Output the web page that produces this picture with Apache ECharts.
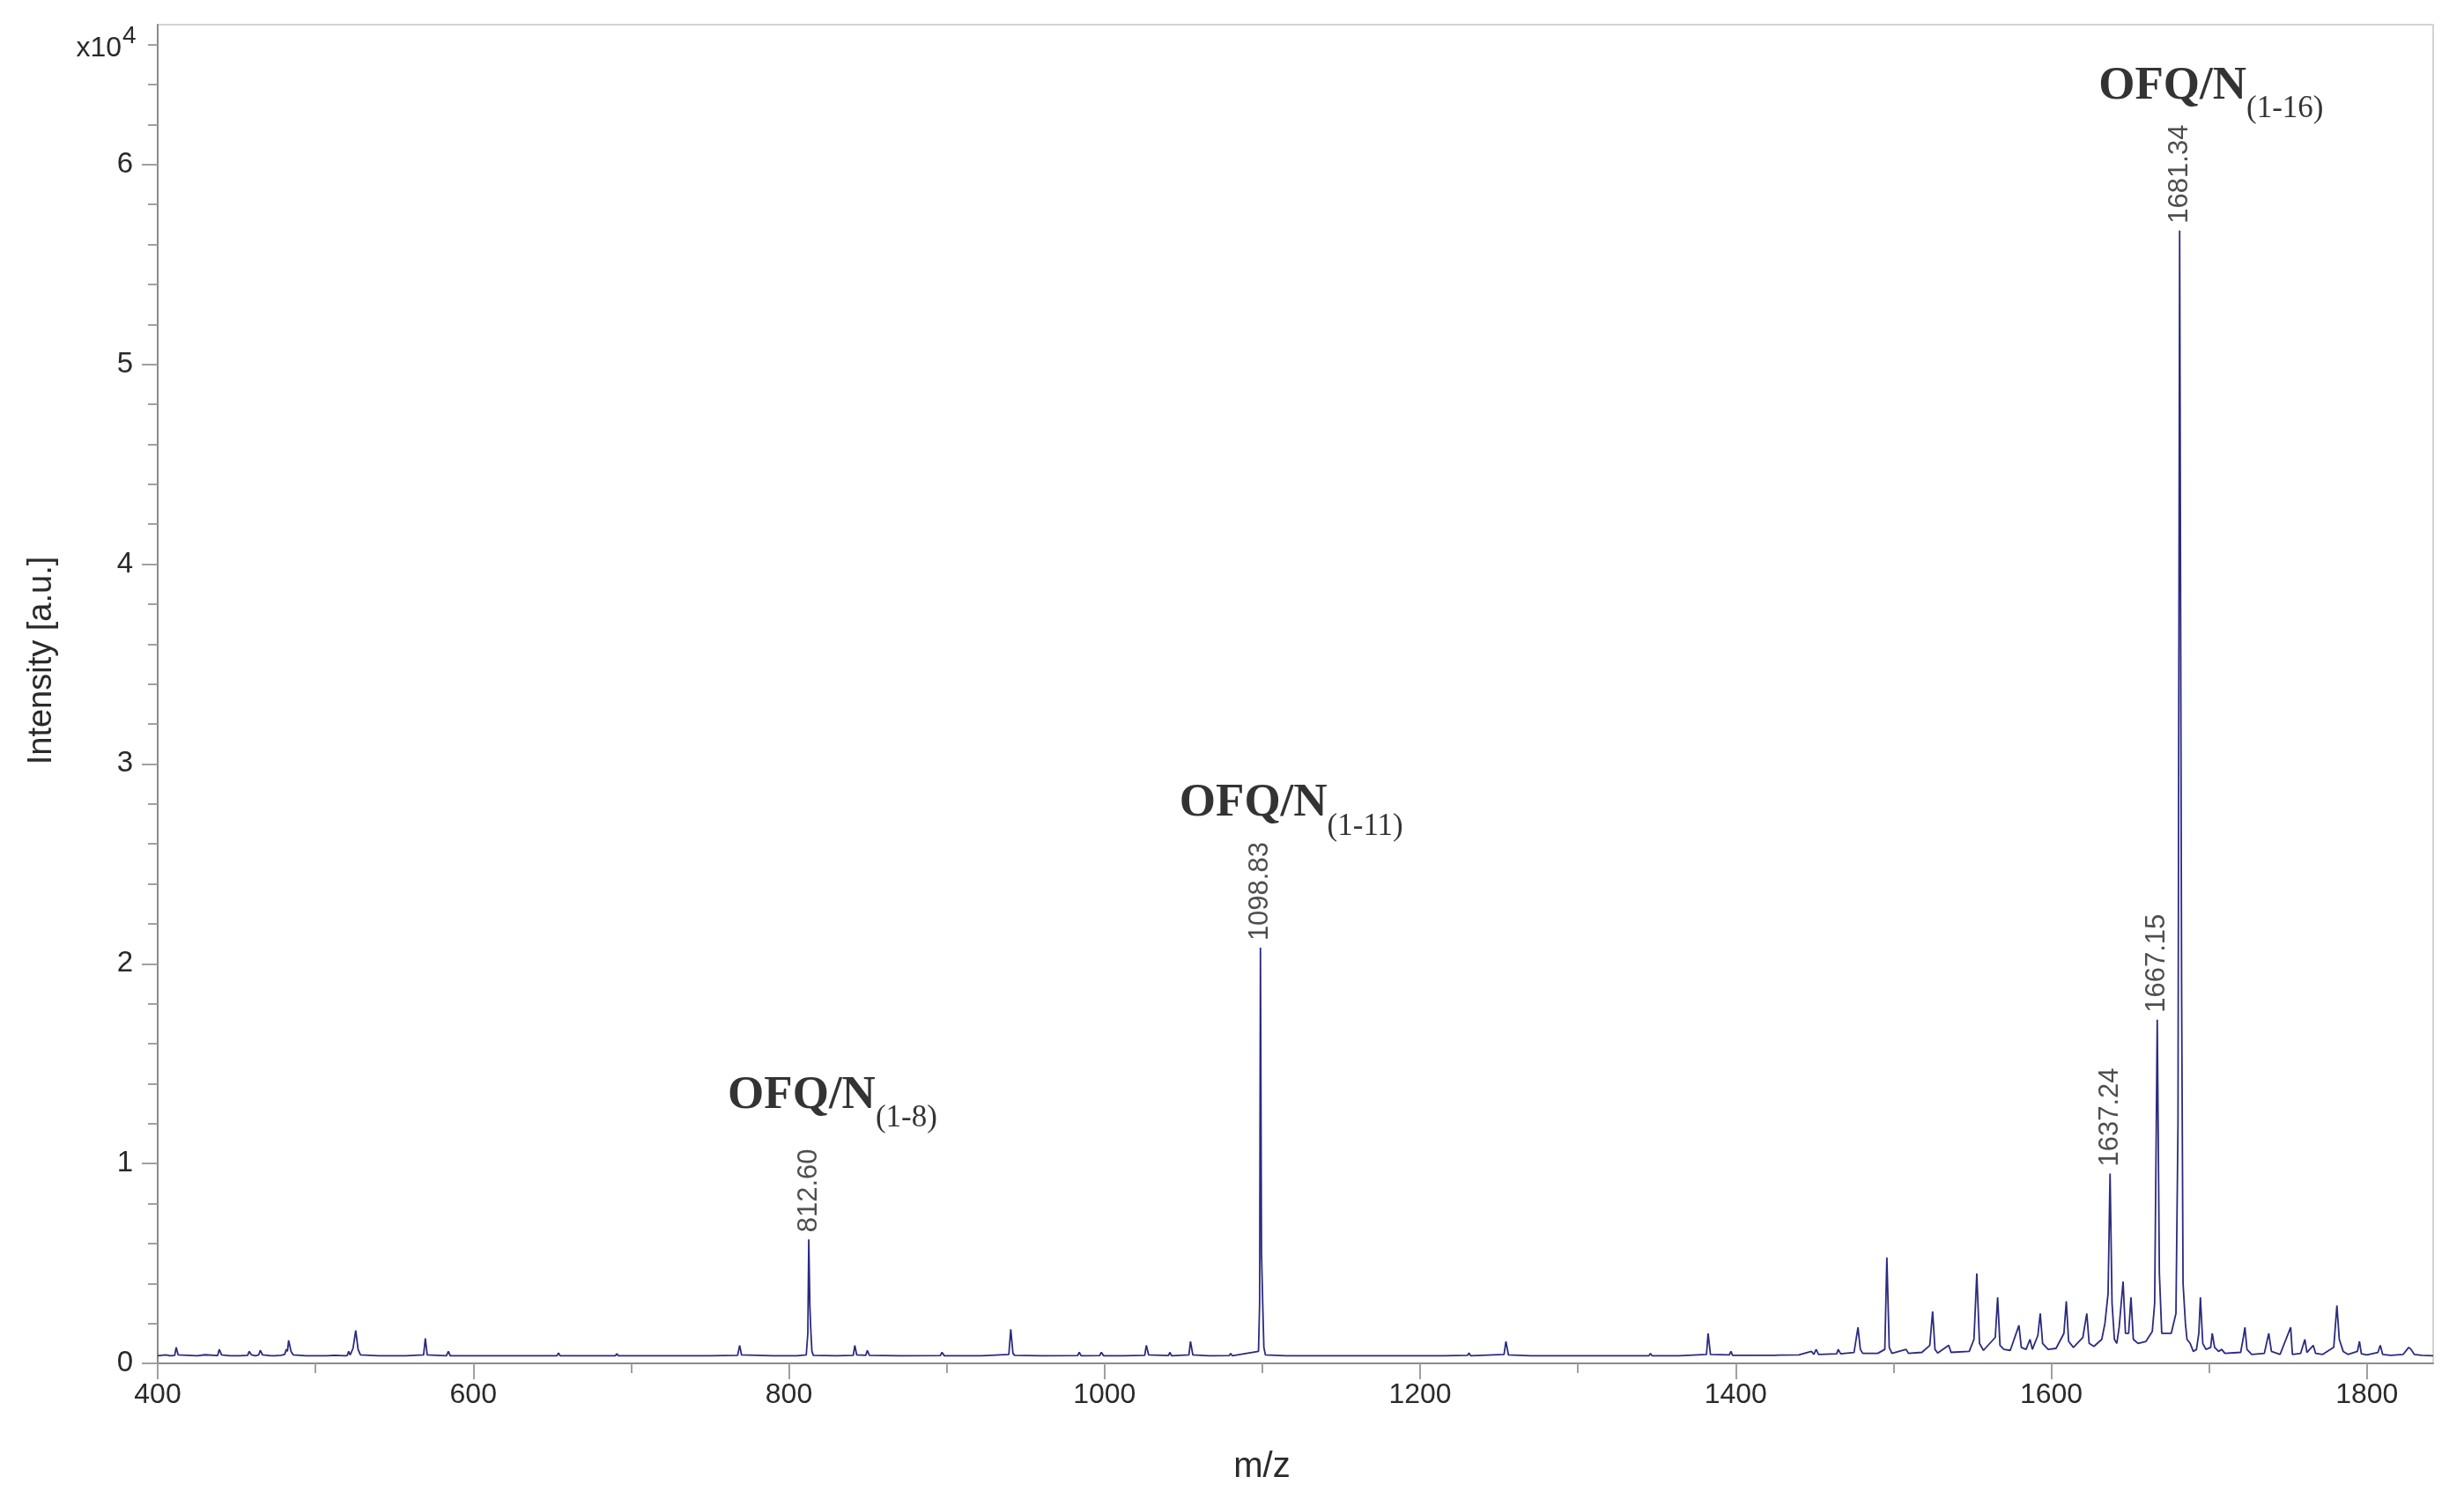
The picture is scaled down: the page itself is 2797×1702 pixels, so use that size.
<!DOCTYPE html>
<html>
<head>
<meta charset="utf-8">
<script src="https://cdn.jsdelivr.net/npm/echarts@6/dist/echarts.min.js"></script>
<style>
html,body{margin:0;padding:0;background:#ffffff;}
#chart{width:2797px;height:1702px;}
</style>
</head>
<body>
<div id="chart"></div>
<script>
// ---- Spectrum profile points [m/z, intensity (a.u.)] ----
const lowMassRegion = [
  [400,380],[405,420],[408,380],[410.8,400],[411.7,800],[413,420],[425,380],[430,430],[431,380],
  [438,390],[439,700],[440.5,420],[446,380],[447,450],[448,380],[452,380],[457,400],[458,600],[459.5,420],
  [462,380],[464,420],[465,650],[466.5,420],[472,380],[473,460],[474,380],[478,400],[480.5,450],
  [481.5,700],[482.2,600],[483,1150],[484.5,600],[486,420],[494,380],[495,450],[496,380],[505,380],
  [506,430],[507,380],[512,400],[519,380],[520.2,400],[521,600],[522,420],[523,500],[523.8,750],
  [525.5,1650],[527,700],[528.5,420],[540,380],[541,440],[542,380],[555,380],[556,430],[557,380],
  [568.5,420],[569.6,1250],[570.8,420],[583,380],[584.2,600],[585.4,380],[600,380],[601,440],[602,380],
  [620,380],[621,430],[622,380],[636,380],[637,440],[638,380],[653,380],[654,520],[655,380],[670,380],
  [671,430],[672,380],[690,380],[691,480],[692,380],[708,380],[709,430],[710,380],[730,380],[731,440],
  [732,380],[748,380],[749,430],[750,380],[767.5,400],[768.8,900],[770,420],[790,380]
];
const midMassRegion = [
  [805,380],[811,420],[812,1500],[812.6,6200],[813.3,2900],[813.8,1800],[814.6,600],[815.5,400],
  [830,380],[840.8,400],[841.8,900],[843,420],[848.7,400],[849.7,650],[851,400],[870,380],[871,430],
  [872,380],[896,390],[897,550],[898.5,380],[920,380],[921,430],[922,380],[939.4,450],[940.6,1700],
  [942,500],[943,400],[960,380],[961,430],[962,380],[983,390],[984,550],[985.2,380],[997,390],[998,550],
  [999.5,380],[1010,380],[1011,430],[1012,380],[1025.5,400],[1026.5,900],[1028,420],[1040.5,390],
  [1041.5,550],[1042.5,380],[1053.5,420],[1054.5,1100],[1056,420],[1066,380],[1067,450],[1068,380],
  [1079,390],[1080,500],[1081,380],[1097.6,600],[1098.3,3000],[1098.83,20800],[1099.5,5500],
  [1100.3,2900],[1101,800],[1102,420],[1115,380],[1116,440],[1117,380],[1135,380],[1136,430],[1137,380],
  [1155,380],[1156,440],[1157,380],[1175,380],[1176,430],[1177,380],[1195,380],[1196,440],[1197,380],
  [1213,380],[1214,430],[1215,380],[1230,400],[1231,520],[1232,380],[1253.2,450],[1254.4,1100],
  [1256,420],[1270,380],[1271,440],[1272,380],[1290,380],[1291,430],[1292,380],[1310,380],[1311,440],
  [1312,380],[1328,380],[1329,430],[1330,380],[1345,380],[1346,500],[1347,380],[1362,380],[1363,440],
  [1364,380],[1381.5,450],[1382.5,1500],[1384,450],[1396,420],[1397,600],[1398,400],[1410,400],
  [1411,460],[1412,400],[1425,400],[1426,470],[1427,410],[1440,420]
];
const peptideCluster = [
  [1448,600],[1449.5,450],[1451,700],[1452.5,450],[1464,480],[1465,700],[1466.5,480],[1475,550],
  [1476,600],[1477.5,1800],[1479,700],[1480.5,500],[1490,500],[1494.5,700],[1495.8,5300],[1497.3,800],
  [1499,500],[1508,700],[1509.5,500],[1518,550],[1523,900],[1524.8,2600],[1526.3,700],[1528,520],
  [1535,900],[1536.5,550],[1548,600],[1551,1200],[1552.8,4500],[1554.5,1000],[1557,650],[1564.5,1300],
  [1566,3300],[1567.5,900],[1570,700],[1574,650],[1579.5,1900],[1581,800],[1584,700],[1586.5,1200],
  [1588,700],[1591.5,1400],[1593,2500],[1594.5,1000],[1598,700],[1603,750],[1608,1500],[1609.5,3100],
  [1611,1100],[1614,800],[1620,1300],[1622.5,2500],[1624,1000],[1627,850],[1632,1200],[1634,2000],
  [1636,3500],[1637.24,9500],[1638.5,3000],[1640,1200],[1641.5,1000],[1643,1800],[1645.5,4100],
  [1647,1500],[1649,1500],[1650.5,3300],[1652,1200],[1655,1000],[1660,1100],[1664,1600],[1665.5,3000],
  [1667.15,17200],[1668.5,4500],[1670,1500],[1672,1500],[1676,1500],[1679,2500],[1680.3,12000],
  [1681.34,56700],[1682.6,18500],[1683.5,4000],[1685,2000],[1686,1200],[1688,1000],[1690,600],
  [1692,700],[1693.5,1500],[1694.5,3300],[1696,1000],[1698,700]
];
const highMassTail = [
  [1701,800],[1702,1500],[1703.5,800],[1706,600],[1708,700],[1710,500],[1720,550],[1721.5,1200],
  [1722.7,1800],[1724,700],[1727,450],[1735,500],[1737.8,1500],[1739.5,600],[1745,450],[1751.7,1800],
  [1752.8,450],[1758,500],[1760.7,1200],[1762,550],[1766,900],[1767.5,500],[1772,450],[1779,800],
  [1781,2900],[1782.5,1200],[1785,600],[1788,450],[1794,600],[1795.3,1100],[1796.5,480],[1800,420],
  [1807,550],[1808.5,900],[1810,450],[1815,400],[1823,450],[1826.5,800],[1828,700],[1830,450],
  [1835,400],[1842,380]
];

// ---- Labelled peaks ----
const peakMz = [812.60, 1098.83, 1637.24, 1667.15, 1681.34];
const peakIntensity = [6200, 20800, 9500, 17200, 56700];
const peakText = ['812.60', '1098.83', '1637.24', '1667.15', '1681.34'];

// ---- Fragment annotations ----
const ionMz = [812.60, 1098.83, 1681.34];
const ionIntensity = [6200, 20800, 56700];
const ionName = ['OFQ/N', 'OFQ/N', 'OFQ/N'];
const ionRange = ['(1-8)', '(1-11)', '(1-16)'];

// ---- Axis ticks ----
const xMajorTicks = [400, 600, 800, 1000, 1200, 1400, 1600, 1800];
const xMinorTicks = [500, 700, 900, 1100, 1300, 1500, 1700];
const yMajorTicks = [0, 10000, 20000, 30000, 40000, 50000, 60000];
const yMinorTicks = [2000, 4000, 6000, 8000, 12000, 14000, 16000, 18000, 22000, 24000, 26000, 28000,
  32000, 34000, 36000, 38000, 42000, 44000, 46000, 48000, 52000, 54000, 56000, 58000, 62000, 64000, 66000];

const spectrum = lowMassRegion.concat(midMassRegion, peptideCluster, highMassTail);

const SANS = '"Liberation Sans", Arial, sans-serif';
const SERIF = '"Liberation Serif", "Times New Roman", serif';
const tickColor = '#a0a0a0';
const labelColor = '#2a2a2a';

const chart = echarts.init(document.getElementById('chart'), null, {renderer: 'canvas'});

const option = {
  backgroundColor: '#ffffff',
  animation: false,
  grid: {left: 179, right: 35, top: 28, bottom: 154, show: true, borderColor: '#d4d4d4', borderWidth: 2, backgroundColor: 'transparent'},
  xAxis: [
    {
      type: 'value', min: 400, max: 1842, position: 'bottom',
      axisLine: {show: true, onZero: false, lineStyle: {color: '#8a8a8a', width: 2}},
      axisTick: {show: true, length: 18, customValues: xMajorTicks, lineStyle: {color: tickColor, width: 2}},
      axisLabel: {show: true, customValues: xMajorTicks, formatter: v => String(v), fontSize: 32, fontFamily: SANS, color: labelColor, margin: 20},
      splitLine: {show: false},
      name: 'm/z', nameLocation: 'middle', nameGap: 98,
      nameTextStyle: {fontSize: 40, fontFamily: SANS, color: labelColor, padding: [0, 76, 0, 0]}
    },
    {
      type: 'value', min: 400, max: 1842, position: 'bottom',
      axisLine: {show: false, onZero: false},
      axisTick: {show: true, length: 11, customValues: xMinorTicks, lineStyle: {color: tickColor, width: 2}},
      axisLabel: {show: false},
      splitLine: {show: false}
    }
  ],
  yAxis: [
    {
      type: 'value', min: 0, max: 67000, position: 'left',
      axisLine: {show: true, onZero: false, lineStyle: {color: '#8a8a8a', width: 2}},
      axisTick: {show: true, length: 18, customValues: yMajorTicks, lineStyle: {color: tickColor, width: 2}},
      axisLabel: {show: true, customValues: yMajorTicks, formatter: v => String(v / 10000), fontSize: 33, fontFamily: SANS, color: labelColor, margin: 28},
      splitLine: {show: false},
      name: 'Intensity [a.u.]', nameLocation: 'middle', nameGap: 112,
      nameTextStyle: {fontSize: 38, fontFamily: SANS, color: labelColor, padding: [0, 0, 0, 76]}
    },
    {
      type: 'value', min: 0, max: 67000, position: 'left',
      axisLine: {show: false, onZero: false},
      axisTick: {show: true, length: 11, customValues: yMinorTicks, lineStyle: {color: tickColor, width: 2}},
      axisLabel: {show: false},
      splitLine: {show: false}
    }
  ],
  graphic: [
    {type: 'text', x: 138, y: 55, z: 100, style: {text: 'x10', font: '32px "Liberation Sans", Arial, sans-serif', fill: labelColor, align: 'right', verticalAlign: 'middle'}},
    {type: 'text', x: 139, y: 41, z: 100, style: {text: '4', font: '28px "Liberation Sans", Arial, sans-serif', fill: labelColor, align: 'left', verticalAlign: 'middle'}}
  ],
  series: [
    {
      type: 'line', name: 'spectrum', xAxisIndex: 0, yAxisIndex: 0,
      data: spectrum, showSymbol: false, symbol: 'none', smooth: false,
      lineStyle: {color: '#2b2b80', width: 1.8},
      z: 2
    },
    {
      type: 'scatter', name: 'peak labels', xAxisIndex: 0, yAxisIndex: 0,
      data: peakMz.map((m, i) => [m, peakIntensity[i], peakText[i]]),
      symbolSize: 0, silent: true, z: 3,
      label: {
        show: true, position: 'top', distance: 8, rotate: 90, align: 'left', verticalAlign: 'middle',
        formatter: p => p.data[2], fontSize: 31, fontFamily: SANS, color: '#222'
      }
    },
    {
      type: 'scatter', name: 'fragments', xAxisIndex: 0, yAxisIndex: 0,
      data: ionMz.map((m, i) => [m, ionIntensity[i], ionName[i], ionRange[i]]),
      symbolSize: 0, silent: true, z: 3,
      label: {
        show: true, position: 'top', distance: 120, align: 'left', offset: [-92, 0],
        formatter: p => '{a|' + p.data[2] + '}{b|' + p.data[3] + '}',
        rich: {
          a: {fontSize: 53, fontWeight: 'bold', fontFamily: SERIF, color: '#000', lineHeight: 70, verticalAlign: 'top'},
          b: {fontSize: 35, fontWeight: 'normal', fontFamily: SERIF, color: '#000', lineHeight: 6, verticalAlign: 'bottom'}
        }
      }
    }
  ]
};
chart.setOption(option);
</script>
</body>
</html>
